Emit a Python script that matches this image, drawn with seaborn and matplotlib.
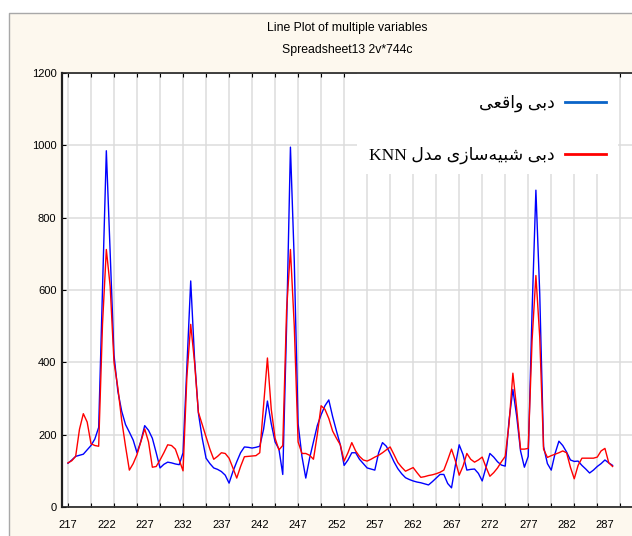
import numpy as np
import pandas as pd
import matplotlib
matplotlib.use("Agg")
import matplotlib.pyplot as plt
from matplotlib.patches import Rectangle
from matplotlib.lines import Line2D
from matplotlib.font_manager import FontProperties
import seaborn as sns

# data (two points per case number)
case_start = 217
case_step = 0.5

observed = [121, 130, 140, 143, 146, 158, 170, 188, 220, 600,
            985, 700, 420, 320, 265, 228, 207, 185, 150, 182,
            225, 212, 190, 150, 108, 118, 124, 122, 119, 117,
            150, 390, 625, 410, 260, 190, 135, 120, 108, 104,
            98, 88, 66, 98, 125, 150, 166, 165, 163, 165,
            168, 215, 293, 230, 180, 160, 90, 500, 995, 680,
            230, 140, 80, 135, 180, 225, 255, 280, 296, 250,
            210, 172, 115, 130, 150, 150, 132, 120, 108, 105,
            102, 150, 178, 168, 148, 125, 106, 92, 81, 76,
            72, 69, 67, 64, 61, 70, 80, 90, 90, 65,
            53, 115, 172, 145, 102, 104, 105, 93, 72, 110,
            148, 138, 125, 116, 113, 240, 325, 250, 155, 110,
            140, 540, 876, 590, 167, 120, 102, 148, 182, 170,
            152, 130, 126, 127, 115, 105, 94, 102, 112, 120,
            130, 122, 115]

knn = [122, 128, 140, 215, 258, 235, 175, 170, 168, 505,
       712, 610, 400, 330, 240, 168, 102, 120, 145, 180,
       216, 180, 110, 112, 130, 150, 172, 170, 160, 130,
       100, 360, 505, 400, 262, 228, 195, 160, 132, 140,
       150, 148, 135, 108, 80, 112, 139, 140, 141, 142,
       150, 280, 412, 270, 190, 158, 170, 545, 712, 500,
       180, 148, 148, 143, 132, 200, 280, 270, 245, 210,
       190, 172, 127, 150, 178, 155, 140, 130, 127, 132,
       138, 143, 150, 158, 166, 145, 123, 110, 99, 104,
       109, 95, 82, 84, 87, 89, 92, 96, 102, 130,
       160, 128, 88, 113, 148, 132, 124, 130, 138, 110,
       85, 95, 108, 125, 140, 230, 370, 270, 160, 160,
       162, 460, 640, 470, 160, 137, 142, 146, 150, 155,
       150, 110, 78, 115, 135, 135, 135, 135, 138, 155,
       162, 122, 112]

x_labels = ["217", "222", "227", "232", "237", "242", "247", "252",
            "257", "262", "267", "272", "277", "282", "287"]
y_ticks = [0, 200, 400, 600, 800, 1000, 1200]
titles = ["Line Plot of multiple variables", "Spreadsheet13 2v*744c"]
series_names = ["دبی واقعی", "دبی شبیه‌سازی مدل KNN"]

# matplotlib has no arabic shaping, so pick presentation forms by hand
FORMS = {
    "\u0627": ("\uFE8D", "\uFE8E", None, None),
    "\u0628": ("\uFE8F", "\uFE90", "\uFE91", "\uFE92"),
    "\u062F": ("\uFEA9", "\uFEAA", None, None),
    "\u0632": ("\uFEAF", "\uFEB0", None, None),
    "\u0633": ("\uFEB1", "\uFEB2", "\uFEB3", "\uFEB4"),
    "\u0634": ("\uFEB5", "\uFEB6", "\uFEB7", "\uFEB8"),
    "\u0639": ("\uFEC9", "\uFECA", "\uFECB", "\uFECC"),
    "\u0642": ("\uFED5", "\uFED6", "\uFED7", "\uFED8"),
    "\u0644": ("\uFEDD", "\uFEDE", "\uFEDF", "\uFEE0"),
    "\u0645": ("\uFEE1", "\uFEE2", "\uFEE3", "\uFEE4"),
    "\u0647": ("\uFEE9", "\uFEEA", "\uFEEB", "\uFEEC"),
    "\u0648": ("\uFEED", "\uFEEE", None, None),
    "\u06CC": ("\uFEEF", "\uFEF0", "\uFEF3", "\uFEF4"),
}


def shape_word(w):
    out = []
    for k, ch in enumerate(w):
        if ch not in FORMS:
            if ch != "\u200c":
                out.append(ch)
            continue
        prev = w[k - 1] if k > 0 else ""
        nxt = w[k + 1] if k + 1 < len(w) else ""
        jp = prev in FORMS and FORMS[prev][2] is not None
        jn = nxt in FORMS and FORMS[ch][2] is not None
        iso, fin, ini, med = FORMS[ch]
        if jp and jn:
            out.append(med)
        elif jp:
            out.append(fin)
        elif jn:
            out.append(ini)
        else:
            out.append(iso)
    return "".join(reversed(out))


def rtl(text):
    words = []
    for w in text.split(" "):
        if any(c in FORMS for c in w):
            words.append(shape_word(w))
        else:
            words.append(w)
    return " ".join(reversed(words))


df = pd.DataFrame({
    "case": case_start + case_step * np.arange(len(observed)),
    "observed": observed,
    "knn": knn,
})

W, H = 632, 536
cream = "#fdf8ee"
small = FontProperties(family=["Liberation Sans", "DejaVu Sans"], size=8)
title_font = FontProperties(family=["Liberation Sans", "DejaVu Sans"], size=8.8)

fig = plt.figure(figsize=(W / 100, H / 100), dpi=100, facecolor=cream)
fig.patches.append(Rectangle((0, 0), 9 / W, 1, transform=fig.transFigure,
                             facecolor="white", edgecolor="none"))
fig.patches.append(Rectangle((0, (H - 13) / H), 1, 13 / H, transform=fig.transFigure,
                             facecolor="white", edgecolor="none"))
fig.lines.append(Line2D([9 / W, 9 / W, 1], [0, (H - 13) / H, (H - 13) / H],
                        transform=fig.transFigure, color="#a8a8a8", lw=1))

ax = fig.add_axes([62 / W, (H - 507) / H, 574 / W, 434 / H])
ax.set_facecolor("white")

sns.lineplot(data=df, x="case", y="observed", color="#0000ff", lw=1.0, ax=ax, legend=False)
sns.lineplot(data=df, x="case", y="knn", color="#ff0000", lw=1.0, ax=ax, legend=False)

ax.set_xlim(216.22, 291.05)
ax.set_ylim(0, 1200)
ax.set_xlabel("")
ax.set_ylabel("")

# gridlines/ticks every 3 cases, labels every 5
ax.xaxis.remove_overlapping_locs = False
ax.set_xticks(np.arange(217, 291, 3))
ax.set_xticklabels([])
ax.set_xticks([int(s) for s in x_labels], minor=True)
ax.set_xticklabels(x_labels, minor=True, fontproperties=small)
ax.set_yticks(y_ticks)
ax.set_yticklabels([str(v) for v in y_ticks], fontproperties=small)
ax.tick_params(axis="x", which="major", direction="in", length=3, top=True, color="black")
ax.tick_params(axis="x", which="minor", length=0, pad=9)
ax.tick_params(axis="y", direction="in", length=3, pad=4, color="black")
ax.grid(True, which="major", color="#dcdcdc", lw=1.1)
ax.set_axisbelow(True)

for side in ["left", "top", "bottom"]:
    ax.spines[side].set_color("#202020")
ax.spines["left"].set_linewidth(1.6)
ax.spines["top"].set_linewidth(1.2)
ax.spines["bottom"].set_linewidth(1.2)
ax.spines["right"].set_visible(False)

# white box behind the legend hides the gridlines there
ax.add_patch(Rectangle((357 / W, (H - 174) / H), (618 - 357) / W, 101 / H,
                       transform=fig.transFigure, facecolor="white",
                       edgecolor="none", zorder=1.5))
handles = [Line2D([], [], color="#0a64c8", lw=2), Line2D([], [], color="#ff0000", lw=2)]
leg = ax.legend(handles, [rtl(s) for s in series_names], loc="upper right",
                bbox_to_anchor=(615 / W, (H - 86) / H), bbox_transform=fig.transFigure,
                frameon=False, markerfirst=False, borderpad=0, handlelength=2.4,
                handletextpad=0.55, labelspacing=2.0,
                prop=FontProperties(family=["Liberation Serif", "DejaVu Sans"], size=12.5))
leg.set_zorder(5)

fig.text(347 / W, (H - 28) / H, titles[0], ha="center", va="center", fontproperties=title_font)
fig.text(347 / W, (H - 50) / H, titles[1], ha="center", va="center", fontproperties=title_font)

fig.savefig("out.png", dpi=100, facecolor=cream)
